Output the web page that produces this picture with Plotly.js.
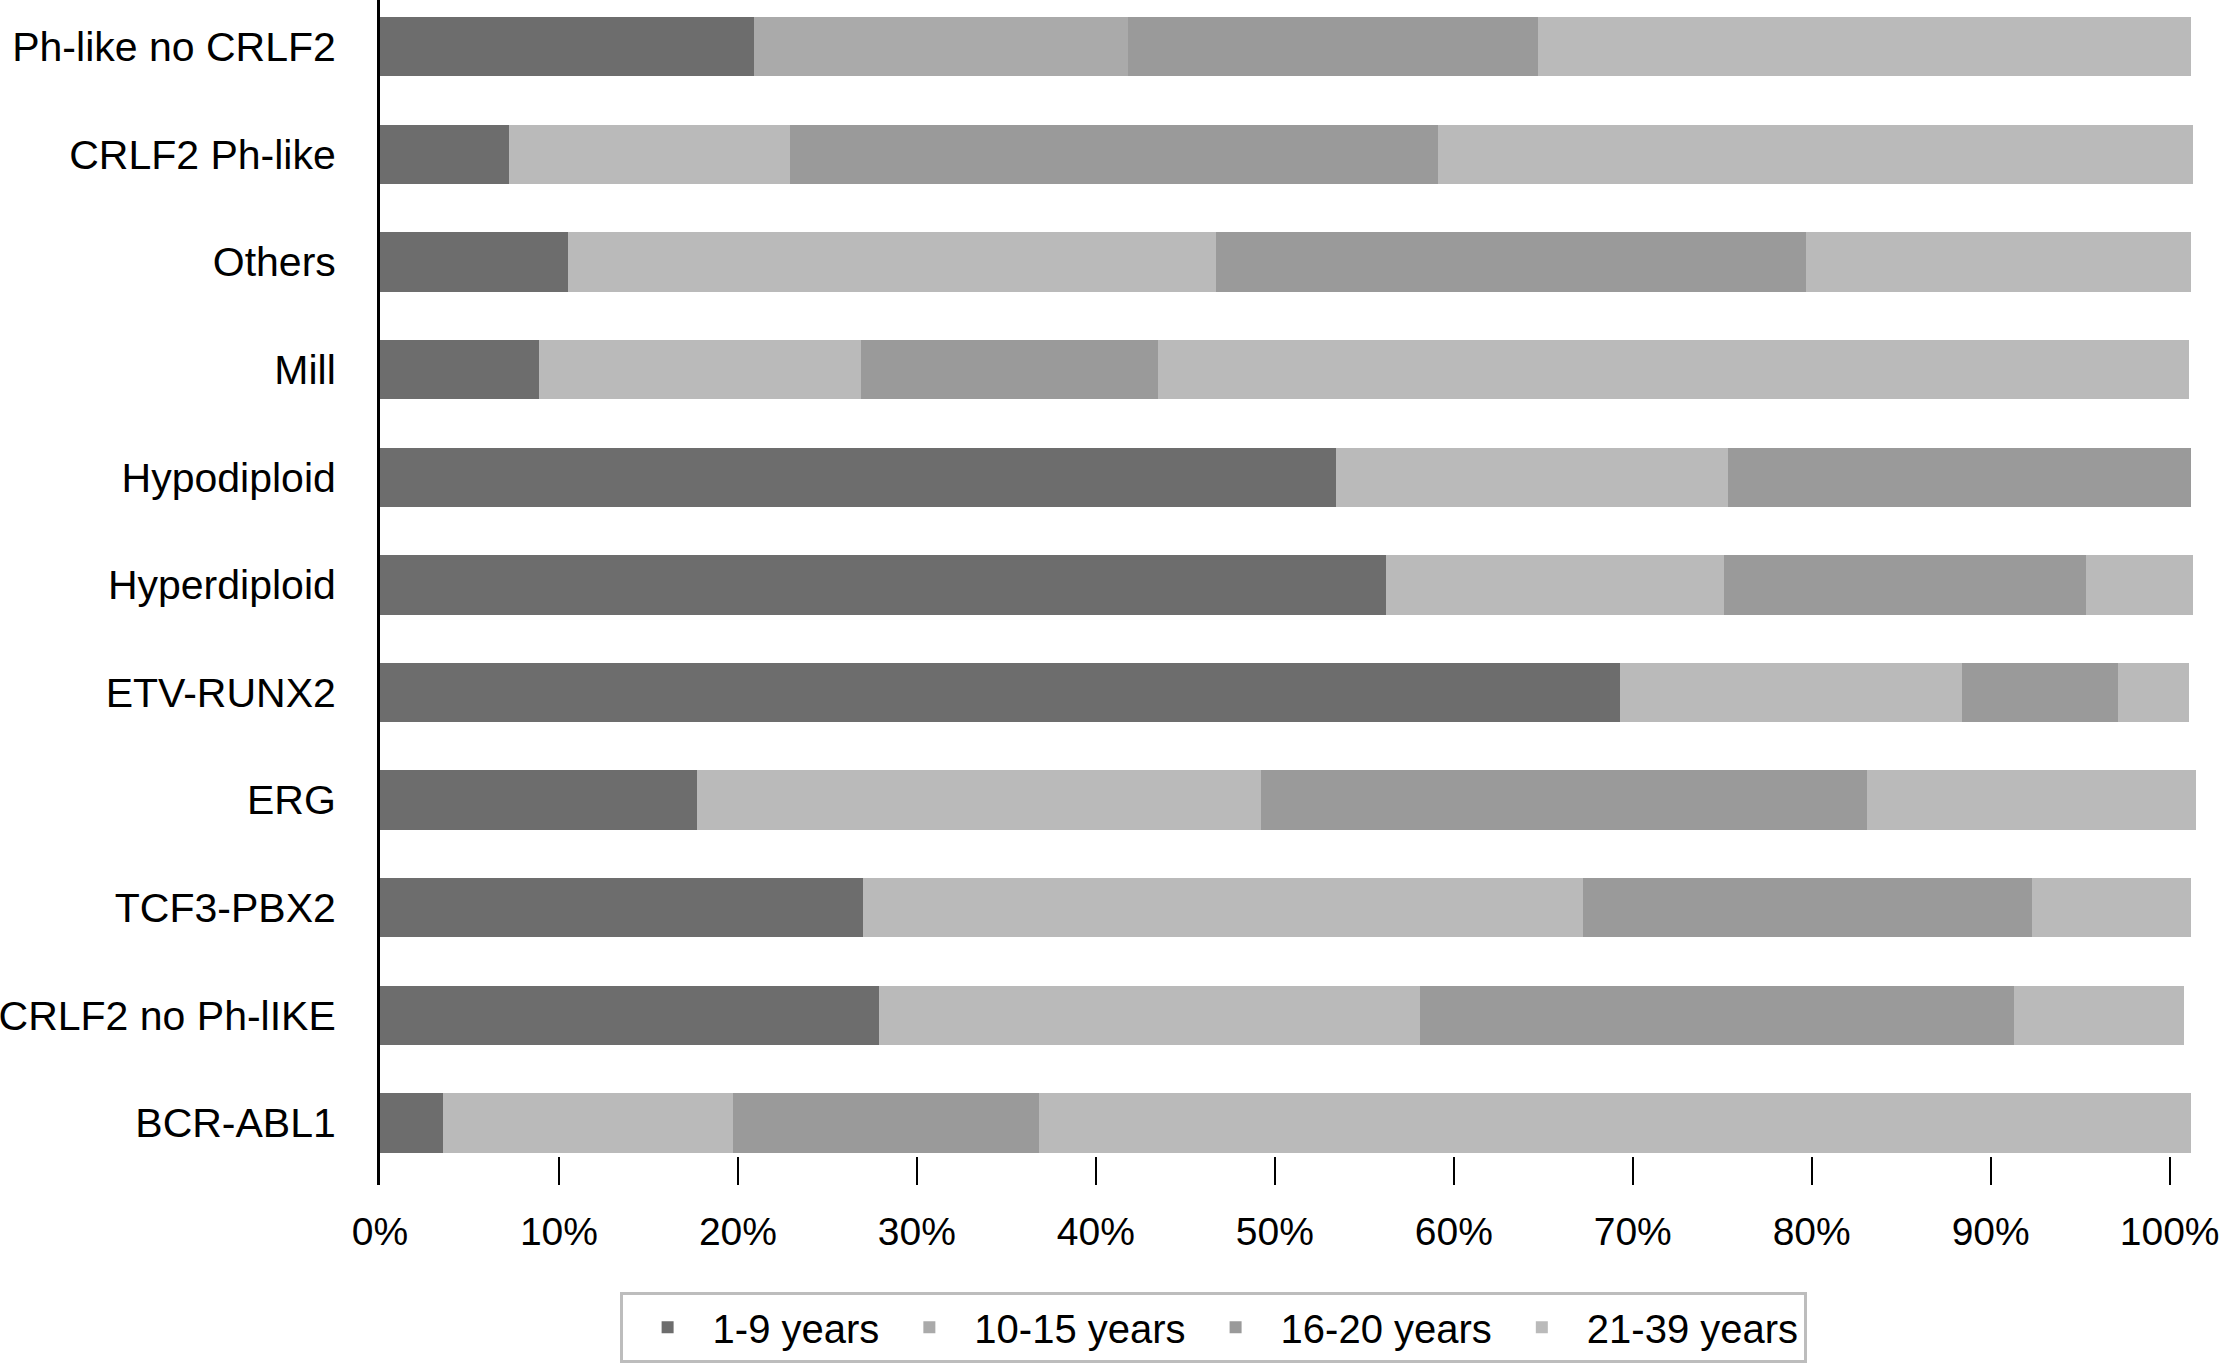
<!DOCTYPE html>
<html>
<head>
<meta charset="utf-8">
<script src="https://cdn.plot.ly/plotly-3.0.1.min.js"></script>
<style>html,body{margin:0;padding:0;background:#fff;}#chart{width:2222px;height:1365px;}</style>
</head>
<body>
<div id="chart"></div>
<script>
// Categories, top to bottom as in the figure
const categories = ['Ph-like no CRLF2','CRLF2 Ph-like','Others','Mill','Hypodiploid','Hyperdiploid','ETV-RUNX2','ERG','TCF3-PBX2','CRLF2 no Ph-lIKE','BCR-ABL1'];
const seriesNames = ['1-9 years','10-15 years','16-20 years','21-39 years'];
const age1to9   = [20.9,  7.2, 10.5,  8.9, 53.4, 56.2, 69.3, 17.7, 27.0, 27.9,  3.5];
const age10to15 = [20.9, 15.7, 36.2, 18.0, 21.9, 18.9, 19.1, 31.5, 40.2, 30.2, 16.2];
const age16to20 = [22.9, 36.2, 33.0, 16.6, 25.9, 20.2,  8.7, 33.9, 25.1, 33.2, 17.1];
const age21to39 = [36.5, 42.2, 21.5, 57.6,  0.0,  6.0,  4.0, 18.4,  8.9,  9.5, 64.4];
const xTicks = [0,10,20,30,40,50,60,70,80,90,100];

const colors = ['#6d6d6d','#bababa','#9a9a9a','#bababa'];
const c1015 = categories.map(c => c === 'Ph-like no CRLF2' ? '#aaaaaa' : colors[1]);
const seriesVals = [age1to9, age10to15, age16to20, age21to39];
const fam = '"Liberation Sans", Arial, sans-serif';
const fnt = {family:fam, size:40, color:'#000'};
const xfnt = {family:fam, size:39, color:'#000'};
const yfnt = {family:fam, size:41, color:'#000'};

const traces = seriesVals.map((vals, i) => ({
  type:'bar', orientation:'h', name:seriesNames[i],
  x: vals, y: categories,
  marker:{color: i === 1 ? c1015 : colors[i], line:{width:0}},
  hoverinfo:'skip'
}));

const layout = {
  width:2222, height:1365,
  margin:{l:380, r:13, t:0, b:180, pad:0},
  paper_bgcolor:'#fff', plot_bgcolor:'#fff',
  barmode:'stack', bargap:0.448,
  font:fnt,
  showlegend:true,
  xaxis:{
    range:[0,102.2], tickvals:xTicks, ticktext:xTicks.map(v => v + '%'),
    ticks:'inside', ticklen:28, tickwidth:2, tickcolor:'#000',
    showgrid:false, zeroline:false, showline:false,
    tickfont:xfnt, ticklabelstandoff:20, ticklabeloverflow:'allow', fixedrange:true
  },
  yaxis:{
    type:'category', categoryorder:'array', categoryarray:categories,
    range:[10.576,-0.434],
    showline:true, linecolor:'#000', linewidth:3,
    ticks:'', showgrid:false, zeroline:false,
    tickfont:yfnt, ticklabelstandoff:33, fixedrange:true
  },
  legend:{
    orientation:'h', x:0.4555, xanchor:'center', y:-0.09, yanchor:'top',
    bordercolor:'#bdbdbd', borderwidth:3, bgcolor:'#fff',
    font:fnt, traceorder:'normal', itemwidth:80
  }
};

Plotly.newPlot('chart', traces, layout, {staticPlot:true, displayModeBar:false});
</script>
</body>
</html>
